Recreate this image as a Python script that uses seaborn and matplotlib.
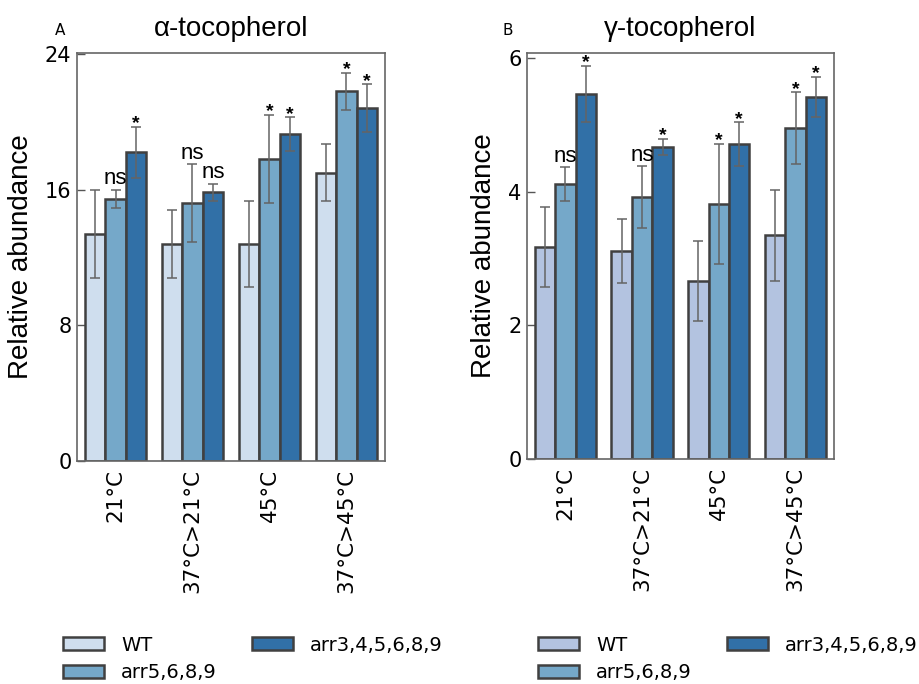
import numpy as np
import pandas as pd
import matplotlib
matplotlib.use('Agg')
import matplotlib.pyplot as plt
import seaborn as sns

# dati
condizioni = ['21°C', '37°C>21°C', '45°C', '37°C>45°C']
genotipi = ['WT', 'arr5,6,8,9', 'arr3,4,5,6,8,9']

alpha_wt = [13.4, 12.8, 12.8, 17.0]
alpha_wt_sd = [2.6, 2.0, 2.55, 1.7]
alpha_arr5 = [15.45, 15.2, 17.8, 21.8]
alpha_arr5_sd = [0.55, 2.3, 2.6, 1.1]
alpha_arr3 = [18.2, 15.85, 19.25, 20.8]
alpha_arr3_sd = [1.5, 0.5, 1.0, 1.4]
alpha_sig_arr5 = ['ns', 'ns', '*', '*']
alpha_sig_arr3 = ['*', 'ns', '*', '*']

gamma_wt = [3.17, 3.12, 2.66, 3.35]
gamma_wt_sd = [0.6, 0.48, 0.6, 0.68]
gamma_arr5 = [4.12, 3.92, 3.82, 4.95]
gamma_arr5_sd = [0.25, 0.46, 0.9, 0.54]
gamma_arr3 = [5.47, 4.67, 4.71, 5.42]
gamma_arr3_sd = [0.42, 0.12, 0.33, 0.3]
gamma_sig_arr5 = ['ns', 'ns', '*', '*']
gamma_sig_arr3 = ['*', '*', '*', '*']

sns.set_style('white')
plt.rcParams['font.family'] = ['DejaVu Sans']
plt.rcParams['text.color'] = 'black'
plt.rcParams['xtick.labelcolor'] = 'black'
plt.rcParams['ytick.labelcolor'] = 'black'
plt.rcParams['axes.labelcolor'] = 'black'


def costruisciDf(wt, arr5, arr3):
    righe = []
    for serie, gen in zip([wt, arr5, arr3], genotipi):
        for cond, val in zip(condizioni, serie):
            righe.append({'Condizione': cond, 'Genotipo': gen, 'Valore': val})
    return pd.DataFrame(righe)


def pannello(ax, df, sds, sigs, colori, titolo, lettera, yticks, ymax, leg_pos, lx):
    sns.barplot(data=df, x='Condizione', y='Valore', hue='Genotipo',
                palette=colori, saturation=1, errorbar=None, edgecolor='#404040',
                linewidth=1.8, ax=ax)
    # barre d'errore sopra ogni barra
    for cont, sd, sig in zip(ax.containers, sds, sigs):
        xs = [b.get_x() + b.get_width() / 2 for b in cont]
        ys = [b.get_height() for b in cont]
        ax.errorbar(xs, ys, yerr=sd, fmt='none', ecolor='#646464',
                    elinewidth=1.1, capsize=3.5, capthick=1.1, zorder=5)
        if sig is None:
            continue
        for x, y, s, t in zip(xs, ys, sd, sig):
            if t == '*':
                ax.annotate(t, (x, y + s), xytext=(0, -1), textcoords='offset points',
                            ha='center', va='baseline', fontsize=14, fontweight='bold',
                            family='Liberation Sans')
            elif t == 'ns':
                ax.annotate(t, (x, y + s), xytext=(0, 4), textcoords='offset points',
                            ha='center', va='baseline', fontsize=16,
                            family='Liberation Sans')
    ax.set_ylim(0, ymax)
    ax.set_xlim(-0.5, 3.5)
    ax.set_yticks(yticks)
    ax.set_xlabel('')
    ax.set_ylabel('Relative abundance', fontsize=20, family='Liberation Sans', labelpad=8)
    ax.set_title(titolo, fontsize=20, family='Liberation Sans', pad=12)
    ax.tick_params(axis='x', length=0, labelsize=15.5, rotation=90, pad=6)
    ax.tick_params(axis='y', direction='in', length=6, width=1, color='#555555',
                   labelsize=15, pad=4, left=True)
    for sp in ax.spines.values():
        sp.set_color('#666666')
        sp.set_linewidth(1.2)
    ax.text(lx, 1.056, lettera, transform=ax.transAxes, fontsize=11,
            ha='center', va='center')
    handles, labels = ax.get_legend_handles_labels()
    ax.legend(handles, labels, loc='upper left', bbox_to_anchor=leg_pos,
              bbox_transform=ax.figure.transFigure, ncol=2, frameon=False,
              fontsize=14, borderpad=0, handlelength=2.1, handleheight=0.65,
              handletextpad=0.9, columnspacing=1.8, labelspacing=0.45)


fig = plt.figure(figsize=(9.19, 6.84), dpi=100)
axA = fig.add_axes([0.0838, 0.326, 0.3351, 0.5965])
axB = fig.add_axes([0.5734, 0.329, 0.334, 0.5936])

pannello(axA, costruisciDf(alpha_wt, alpha_arr5, alpha_arr3),
         [alpha_wt_sd, alpha_arr5_sd, alpha_arr3_sd],
         [None, alpha_sig_arr5, alpha_sig_arr3],
         ['#cfdeee', '#75a8c9', '#3170a7'], 'α-tocopherol', 'A',
         [0, 8, 16, 24], 24.05, (53 / 919, 1 - 626 / 684), -0.055)

pannello(axB, costruisciDf(gamma_wt, gamma_arr5, gamma_arr3),
         [gamma_wt_sd, gamma_arr5_sd, gamma_arr3_sd],
         [None, gamma_sig_arr5, gamma_sig_arr3],
         ['#b3c3e0', '#75a8c9', '#3170a7'], 'γ-tocopherol', 'B',
         [0, 2, 4, 6], 6.08, (528 / 919, 1 - 626 / 684), -0.062)

plt.savefig('out.png', dpi=100)
